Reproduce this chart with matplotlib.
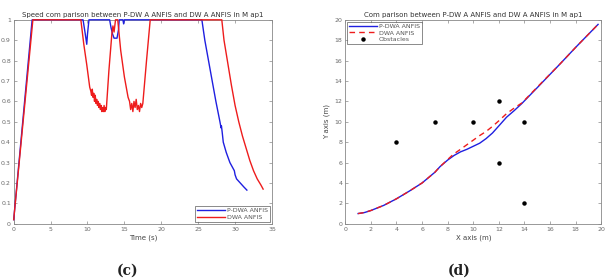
import matplotlib
matplotlib.use("Agg")
import matplotlib.pyplot as plt

# ---- (c) speed comparison ----
t_pdwa = [0, 2.5, 9.4, 9.7, 9.9, 10.0, 10.2, 13.0, 13.2, 13.4, 13.6, 14.0, 14.2, 14.3,
          14.8, 14.9, 15.0, 25.5, 25.9, 26.4, 26.9, 27.4, 27.95, 28.1, 28.15, 28.25, 28.4,
          28.8, 29.3, 29.9, 30.0, 30.2, 30.7, 31.2, 31.6]
v_pdwa = [0.02, 1.0, 1.0, 0.93, 0.88, 0.93, 1.0, 1.0, 0.96, 0.93, 0.91, 0.91, 0.95, 1.0,
          1.0, 0.98, 1.0, 1.0, 0.9, 0.8, 0.7, 0.6, 0.5, 0.47, 0.48, 0.45, 0.40,
          0.35, 0.30, 0.26, 0.24, 0.22, 0.20, 0.18, 0.165]

t_dwa = [0, 2.6, 9.1, 9.5, 9.9, 10.3, 10.45, 10.55, 10.65, 10.75, 10.85, 10.95, 11.05,
         11.15, 11.25, 11.35, 11.45, 11.55, 11.65, 11.75, 11.85, 11.95, 12.05, 12.15,
         12.25, 12.35, 12.45, 12.55, 12.9, 13.3, 13.45, 13.6, 13.8, 14.1, 14.5, 15.0,
         15.5, 15.7, 15.85, 16.0, 16.15, 16.3, 16.45, 16.6, 16.75, 16.9, 17.05, 17.2,
         17.35, 17.5, 18.0, 18.5, 28.2, 28.5, 29.0, 29.5, 30.0, 30.5, 31.0, 31.5, 32.0,
         32.5, 33.0, 33.5, 33.8]
v_dwa = [0.02, 1.0, 1.0, 0.88, 0.78, 0.67, 0.65, 0.63, 0.66, 0.62, 0.64, 0.60, 0.63,
         0.59, 0.61, 0.58, 0.60, 0.57, 0.59, 0.56, 0.58, 0.55, 0.57, 0.55, 0.58, 0.55,
         0.57, 0.56, 0.75, 0.93, 0.97, 0.94, 1.0, 1.0, 0.85, 0.72, 0.62, 0.60, 0.56,
         0.59, 0.55, 0.60, 0.57, 0.61, 0.56, 0.58, 0.55, 0.59, 0.57, 0.59, 0.8, 1.0,
         1.0, 0.9, 0.79, 0.68, 0.58, 0.5, 0.43, 0.37, 0.31, 0.26, 0.22, 0.19, 0.17]

# ---- (d) path comparison ----
x_pdwa = [1.0, 1.5, 2.0, 3.0, 4.0, 5.0, 6.0, 7.0, 7.4, 8.0, 8.5, 9.0, 9.5, 10.0, 10.5,
          11.0, 11.5, 12.0, 12.6, 13.2, 13.8, 15.0, 16.8, 18.0, 19.75]
y_pdwa = [1.0, 1.1, 1.3, 1.8, 2.45, 3.2, 4.0, 5.05, 5.6, 6.25, 6.7, 7.05, 7.3, 7.6, 7.9,
          8.35, 8.9, 9.6, 10.45, 11.1, 11.8, 13.35, 15.7, 17.3, 19.55]

x_dwa = [1.0, 1.5, 2.0, 3.0, 4.0, 5.0, 6.0, 7.0, 7.4, 8.0, 8.3, 8.6, 9.0, 9.5, 10.0,
         10.5, 11.0, 11.5, 12.0, 12.6, 13.2, 13.8, 15.0, 16.8, 18.0, 19.75]
y_dwa = [1.0, 1.1, 1.3, 1.8, 2.45, 3.2, 4.0, 5.05, 5.6, 6.3, 6.65, 6.95, 7.3, 7.75, 8.2,
         8.65, 9.05, 9.55, 10.1, 10.8, 11.35, 11.85, 13.4, 15.7, 17.3, 19.55]

obs_x = [4, 7, 10, 12, 14, 12, 14]
obs_y = [8, 10, 10, 12, 10, 6, 2]

BLUE = "#1f1fe0"
RED = "#ee1c1c"
GRAY = "#6a6a6a"


def style_axes(ax):
    for s in ax.spines.values():
        s.set_color("#888888")
        s.set_linewidth(0.6)
    ax.tick_params(direction="in", top=True, right=True, labelsize=4.5,
                   colors="#888888", labelcolor=GRAY, length=2, width=0.5, pad=2)


def style_legend(leg):
    leg.get_frame().set_edgecolor("#333333")
    leg.get_frame().set_linewidth(0.5)
    for txt in leg.get_texts():
        txt.set_color("#555555")


fig = plt.figure(figsize=(6.06, 2.79), dpi=100)

ax1 = fig.add_axes([0.0226, 0.198, 0.4262, 0.731])
ax1.plot(t_pdwa, v_pdwa, color=BLUE, lw=1.0, label="P-DWA ANFIS", clip_on=False, zorder=3)
ax1.plot(t_dwa, v_dwa, color=RED, lw=1.0, label="DWA ANFIS", clip_on=False, zorder=3)
ax1.set_xlim(0, 35)
ax1.set_ylim(0, 1)
ax1.set_xticks(range(0, 36, 5))
ax1.set_yticks([0, 0.1, 0.2, 0.3, 0.4, 0.5, 0.6, 0.7, 0.8, 0.9, 1])
ax1.set_yticklabels(["0", "0.1", "0.2", "0.3", "0.4", "0.5", "0.6", "0.7", "0.8", "0.9", "1"])
ax1.set_xlabel("Time (s)", fontsize=5, color="#444444", labelpad=2)
ax1.set_title("Speed com parison between P-DW A ANFIS and DW A ANFIS in M ap1",
              fontsize=5, color="#333333", pad=2)
style_axes(ax1)
leg1 = ax1.legend(loc="lower right", fontsize=4.5, frameon=True, fancybox=False,
                  handlelength=4.5, borderpad=0.3, labelspacing=0.2,
                  borderaxespad=0.3, handletextpad=0.3)
style_legend(leg1)

ax2 = fig.add_axes([0.5698, 0.198, 0.4224, 0.731])
ax2.plot(x_pdwa, y_pdwa, color=BLUE, lw=1.0, label="P-DWA ANFIS")
ax2.plot(x_dwa, y_dwa, color=RED, lw=1.0, ls=(0, (4, 3)), label="DWA ANFIS")
ax2.plot(obs_x, obs_y, "o", color="black", ms=2.2, ls="none", label="Obstacles")
ax2.set_xlim(0, 20)
ax2.set_ylim(0, 20)
ax2.set_xticks(range(0, 21, 2))
ax2.set_yticks(range(0, 21, 2))
ax2.set_xlabel("X axis (m)", fontsize=5, color="#444444", labelpad=2)
ax2.set_ylabel("Y axis (m)", fontsize=5, color="#444444", labelpad=3)
ax2.set_title("Com parison between P-DW A ANFIS and DW A ANFIS in M ap1",
              fontsize=5, color="#333333", pad=2)
style_axes(ax2)
leg2 = ax2.legend(loc="upper left", fontsize=4.5, frameon=True, fancybox=False,
                  handlelength=4.5, borderpad=0.3, labelspacing=0.2,
                  borderaxespad=0.3, handletextpad=0.3)
style_legend(leg2)

fig.text(128 / 606, 1 - 271 / 279, "(c)", ha="center", va="center",
         fontsize=10, family="DejaVu Serif", fontweight="bold", color="#222222")
fig.text(459 / 606, 1 - 271 / 279, "(d)", ha="center", va="center",
         fontsize=10, family="DejaVu Serif", fontweight="bold", color="#222222")

fig.savefig("out.png", dpi=100)
